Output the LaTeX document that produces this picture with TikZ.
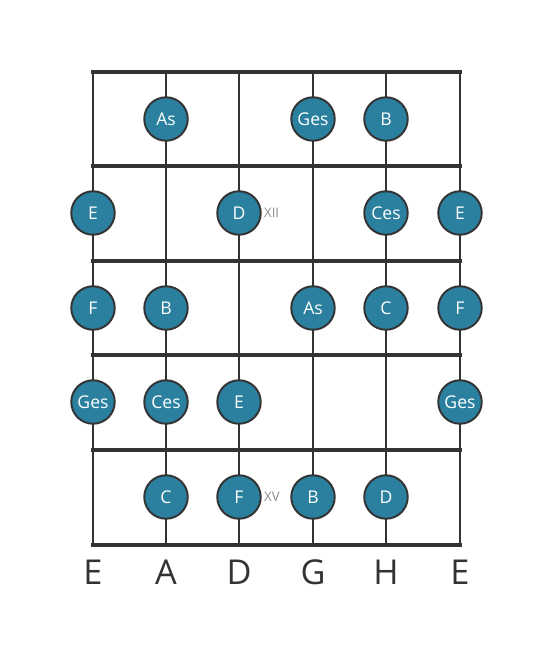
\documentclass[tikz,border=0pt]{standalone}
\usepackage{fontspec}
\setmainfont{Open Sans}
\usepackage{xcolor}
\usepackage{tikz}
\usetikzlibrary{positioning}
\definecolor{gridcolor}{RGB}{51, 51, 51}
\definecolor{notecolor}{RGB}{42, 128, 158}
\definecolor{fretlabelcolor}{RGB}{140, 140, 140}

\tikzset{
    fretline/.style={draw=gridcolor, line width=2.3pt},
    stringline/.style={draw=gridcolor, line width=1.4pt},
    note/.style={circle, draw=gridcolor, line width=1.1pt, fill=notecolor, minimum size=0.87cm, inner sep=0pt, text=white, font=\fontsize{10}{11}\selectfont},
    fretnum/.style={right, text=fretlabelcolor, font=\fontsize{7.5}{8}\selectfont},
    tuning/.style={text=gridcolor, font=\fontsize{19.5}{20}\selectfont}
}

\begin{document}
\begin{tikzpicture}[x=0.02cm, y=0.02cm]
    \useasboundingbox (0, 0) rectangle (553, -656);
    \fill[white] (0, 0) rectangle (553, -656);

    % Strings
    \draw[stringline] (93, -72) -- (93, -545);
    \draw[stringline] (166, -72) -- (166, -545);
    \draw[stringline] (239, -72) -- (239, -545);
    \draw[stringline] (313, -72) -- (313, -545);
    \draw[stringline] (386, -72) -- (386, -545);
    \draw[stringline] (460, -72) -- (460, -545);

    % Frets
    \draw[fretline] (91, -72) -- (462, -72);
    \draw[fretline] (91, -166) -- (462, -166);
    \draw[fretline] (91, -261) -- (462, -261);
    \draw[fretline] (91, -355) -- (462, -355);
    \draw[fretline] (91, -450) -- (462, -450);
    \draw[fretline] (91, -545) -- (462, -545);

    % Fret 1
    \node[note] (as1) at (166, -119) {As};
    \node[note] (ges1) at (313, -119) {Ges};
    \node[note] (b1) at (386, -119) {B};

    % Fret 2
    \node[note] (e2) at (93, -213) {E};
    \node[note] (d2) at (239, -213) {D};
    \node[note] (ces2) at (386, -213) {Ces};
    \node[note] (ee2) at (460, -213) {E};
    \node[fretnum] (xii) at (258, -213) {XII};

    % Fret 3
    \node[note] (f3) at (93, -308) {F};
    \node[note] (b3) at (166, -308) {B};
    \node[note] (as3) at (313, -308) {As};
    \node[note] (c3) at (386, -308) {C};
    \node[note] (ff3) at (460, -308) {F};

    % Fret 4
    \node[note] (ges4) at (93, -402) {Ges};
    \node[note] (ces4) at (166, -402) {Ces};
    \node[note] (e4) at (239, -402) {E};
    \node[note] (gges4) at (460, -402) {Ges};

    % Fret 5
    \node[note] (c5) at (166, -497) {C};
    \node[note] (f5) at (239, -497) {F};
    \node[note] (b5) at (313, -497) {B};
    \node[note] (d5) at (386, -497) {D};
    \node[fretnum] (xv) at (258, -497) {XV};

    % Tuning
    \node[tuning] (te) at (93, -572) {E};
    \node[tuning] (ta) at (166, -572) {A};
    \node[tuning] (td) at (239, -572) {D};
    \node[tuning] (tg) at (313, -572) {G};
    \node[tuning] (th) at (386, -572) {H};
    \node[tuning] (tee) at (460, -572) {E};

\end{tikzpicture}
\end{document}
